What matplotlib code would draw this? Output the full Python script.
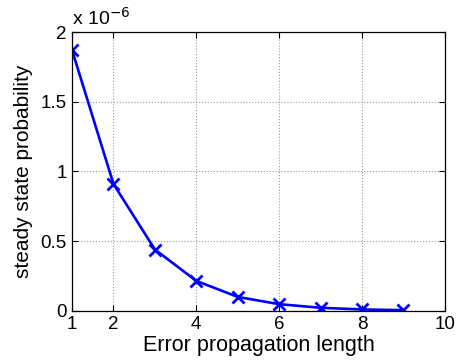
import matplotlib
matplotlib.use('Agg')
import matplotlib.pyplot as plt

plt.rcParams['font.family'] = ['Liberation Sans', 'DejaVu Sans']

# error propagation length vs steady state probability (units of 1e-6)
lengths = [1, 2, 3, 4, 5, 6, 7, 8, 9]
probs = [1.87, 0.91, 0.44, 0.215, 0.10, 0.048, 0.022, 0.01, 0.005]
xticks = [1, 2, 4, 6, 8, 10]
yticks = [0, 0.5, 1, 1.5, 2]
ytick_labels = ['0', '0.5', '1', '1.5', '2']

fig = plt.figure(figsize=(4.59, 3.64), dpi=100)
ax = fig.add_axes([0.157, 0.146, 0.812, 0.766])

ax.plot(lengths, probs, color='#0000ff', lw=1.9, marker='x', ms=8, mew=2)

ax.set_xlim(1, 10)
ax.set_ylim(0, 2)
ax.set_xticks(xticks)
ax.set_yticks(yticks)
ax.set_yticklabels(ytick_labels)
ax.grid(True, linestyle=':', color='#999999', lw=0.8)
ax.tick_params(direction='in', top=True, right=True, labelsize=13.5, length=4, pad=4)
for s in ax.spines.values():
    s.set_linewidth(0.9)

ax.set_xlabel('Error propagation length', fontsize=15.5, labelpad=1)
ax.set_ylabel('steady state probability', fontsize=15, labelpad=5)
ax.text(0.0, 1.01, r'x 10$^{-6}$', transform=ax.transAxes, fontsize=14,
        ha='left', va='bottom')

fig.savefig('out.png', dpi=100)
